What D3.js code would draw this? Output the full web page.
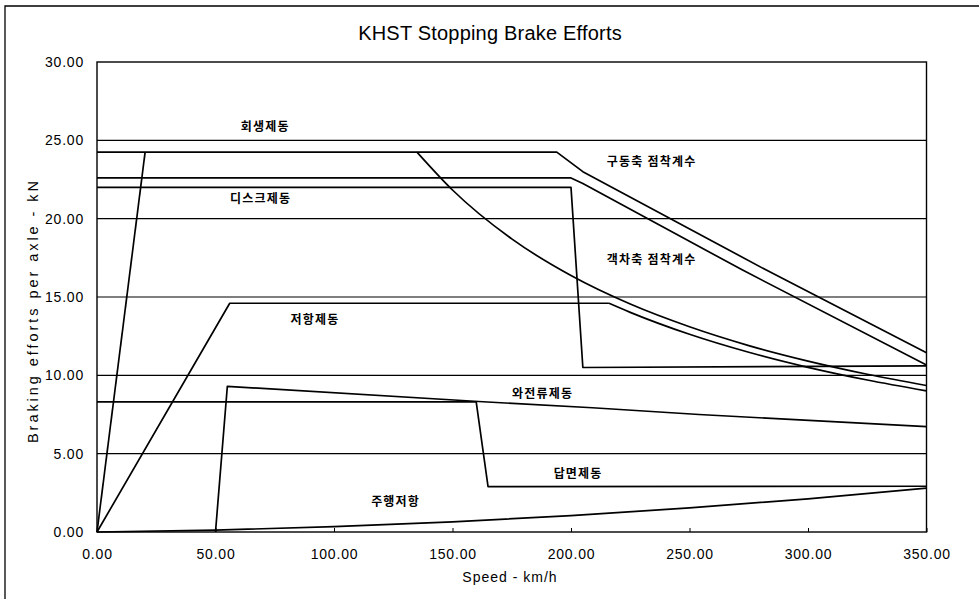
<!DOCTYPE html>
<html>
<head>
<meta charset="utf-8">
<script src="https://cdn.jsdelivr.net/npm/d3@7"></script>
<style>
  html, body { margin: 0; padding: 0; background: #fff; }
  svg { display: block; }
</style>
</head>
<body>
<svg id="chart" width="979" height="599"></svg>
<script>
// ---------- DATA ----------
const chartTitle = "KHST Stopping Brake Efforts";
const xAxisTitle = "Speed - km/h";
const yAxisTitle = "Braking efforts per axle - kN";

const speedTicks  = [0, 50, 100, 150, 200, 250, 300, 350];
const effortTicks = [0, 5, 10, 15, 20, 25, 30];

// each series: [speed km/h, effort kN]
const regenRamp       = [[0, 0], [20.3, 24.25]];                       // steep ramp of 회생제동
const regenBrake      = [[135, 24.25], [150, 21.83], [175, 18.71], [200, 16.37], [225, 14.55],
                         [250, 13.10], [275, 11.90], [300, 10.91], [325, 10.07], [350, 9.35]];
const driveAdhesion   = [[0, 24.25], [194, 24.25], [205, 23.0], [282, 16.75], [350, 11.44]];
const trailerAdhesion = [[0, 22.6], [200, 22.6], [205, 22.25], [272, 16.75], [350, 10.66]];
const discBrake       = [[0, 22.0], [200, 22.0], [205, 10.5], [350, 10.6]];
const resistorRamp    = [[0, 0], [56, 14.6], [216, 14.6]];
const resistorBrake   = [[216, 14.6], [225, 14.02], [250, 12.62],
                         [275, 11.47], [300, 10.51], [325, 9.70], [350, 9.01]];
const eddyBrake       = [[50, 0], [55, 9.3], [161, 8.33], [209, 7.93], [254, 7.5], [350, 6.72]];
const treadBrake      = [[0, 8.3], [160, 8.3], [165, 2.9], [350, 2.92]];
const runResistance   = [[0, 0], [50, 0.12], [100, 0.34], [150, 0.65], [200, 1.05],
                         [250, 1.54], [300, 2.12], [350, 2.8]];

const straightSeries = [regenRamp, driveAdhesion, trailerAdhesion, discBrake,
                        resistorRamp, eddyBrake, treadBrake];
const curvedSeries   = [regenBrake, resistorBrake, runResistance];

// annotation texts with their anchor in data units
const labelTexts  = ["회생제동", "디스크제동", "구동축 점착계수", "객차축 점착계수",
                     "저항제동", "와전류제동", "답면제동", "주행저항"];
const labelSpeeds = [71, 69, 234, 234, 92, 188, 203, 126];
const labelEfforts = [25.8, 21.2, 23.6, 17.3, 13.5, 8.75, 3.65, 1.85];

// ---------- LAYOUT ----------
const svg = d3.select("#chart");
const L = 97, R = 926.5, T = 62, B = 532;

const x = d3.scaleLinear().domain([0, 350]).range([L, R]);
const y = d3.scaleLinear().domain([0, 30]).range([B, T]);

// outer frame
svg.append("path")
  .attr("d", `M5,599 L5,6 L979,6`)
  .attr("fill", "none").attr("stroke", "#000").attr("stroke-width", 1.3);

// title
svg.append("text")
  .attr("x", 490).attr("y", 40)
  .attr("text-anchor", "middle")
  .attr("font-family", "Liberation Sans, Arial, sans-serif")
  .attr("font-size", 20).attr("letter-spacing", 0.2)
  .text(chartTitle);

// gridlines
svg.append("g")
  .selectAll("line")
  .data(effortTicks.filter(d => d > 0 && d < 30))
  .join("line")
  .attr("x1", L).attr("x2", R)
  .attr("y1", d => y(d)).attr("y2", d => y(d))
  .attr("stroke", "#000").attr("stroke-width", 1.1);

// plot border
svg.append("rect")
  .attr("x", L).attr("y", T).attr("width", R - L).attr("height", B - T)
  .attr("fill", "none").attr("stroke", "#000").attr("stroke-width", 1.4);

// x axis (inner ticks)
const xAxis = d3.axisBottom(x).tickValues(speedTicks).tickSizeInner(-4).tickSizeOuter(0)
  .tickFormat(d3.format(".2f")).tickPadding(17);
const gx = svg.append("g").attr("transform", `translate(0,${B})`).call(xAxis);
gx.select(".domain").remove();
gx.selectAll("line").attr("stroke", "#000").attr("stroke-width", 1);
gx.selectAll("text")
  .attr("font-family", "Liberation Sans, Arial, sans-serif")
  .attr("font-size", 14).attr("letter-spacing", 0.8).attr("fill", "#000");

// y axis
const yAxis = d3.axisLeft(y).tickValues(effortTicks).tickSize(0)
  .tickFormat(d3.format(".2f")).tickPadding(13);
const gy = svg.append("g").attr("transform", `translate(${L},0)`).call(yAxis);
gy.select(".domain").remove();
gy.selectAll("text")
  .attr("font-family", "Liberation Sans, Arial, sans-serif")
  .attr("font-size", 14).attr("letter-spacing", 0.8).attr("fill", "#000");

// axis titles
svg.append("text")
  .attr("x", 510).attr("y", 582)
  .attr("text-anchor", "middle")
  .attr("font-family", "Liberation Sans, Arial, sans-serif")
  .attr("font-size", 14).attr("letter-spacing", 1)
  .text(xAxisTitle);

svg.append("text")
  .attr("transform", `translate(38,312) rotate(-90)`)
  .attr("text-anchor", "middle")
  .attr("font-family", "Liberation Sans, Arial, sans-serif")
  .attr("font-size", 14.5)
  .attr("textLength", 262).attr("lengthAdjust", "spacing")
  .text(yAxisTitle);

// series lines
const line = d3.line().x(d => x(d[0])).y(d => y(d[1]));
const curve = d3.line().x(d => x(d[0])).y(d => y(d[1])).curve(d3.curveMonotoneX);
svg.append("g")
  .selectAll("path")
  .data(straightSeries)
  .join("path")
  .attr("d", line)
  .attr("fill", "none")
  .attr("stroke", "#000")
  .attr("stroke-width", 1.7)
  .attr("stroke-linejoin", "round");
svg.append("g")
  .selectAll("path")
  .data(curvedSeries)
  .join("path")
  .attr("d", curve)
  .attr("fill", "none")
  .attr("stroke", "#000")
  .attr("stroke-width", 1.7)
  .attr("stroke-linejoin", "round");

// annotations
svg.append("g")
  .selectAll("text")
  .data(labelTexts)
  .join("text")
  .attr("x", (d, i) => x(labelSpeeds[i]))
  .attr("y", (d, i) => y(labelEfforts[i]))
  .attr("text-anchor", "middle")
  .attr("dominant-baseline", "middle")
  .attr("font-family", "Noto Sans CJK KR, sans-serif")
  .attr("font-weight", "bold")
  .attr("font-size", 12).attr("letter-spacing", 1.2)
  .text(d => d);
</script>
</body>
</html>
